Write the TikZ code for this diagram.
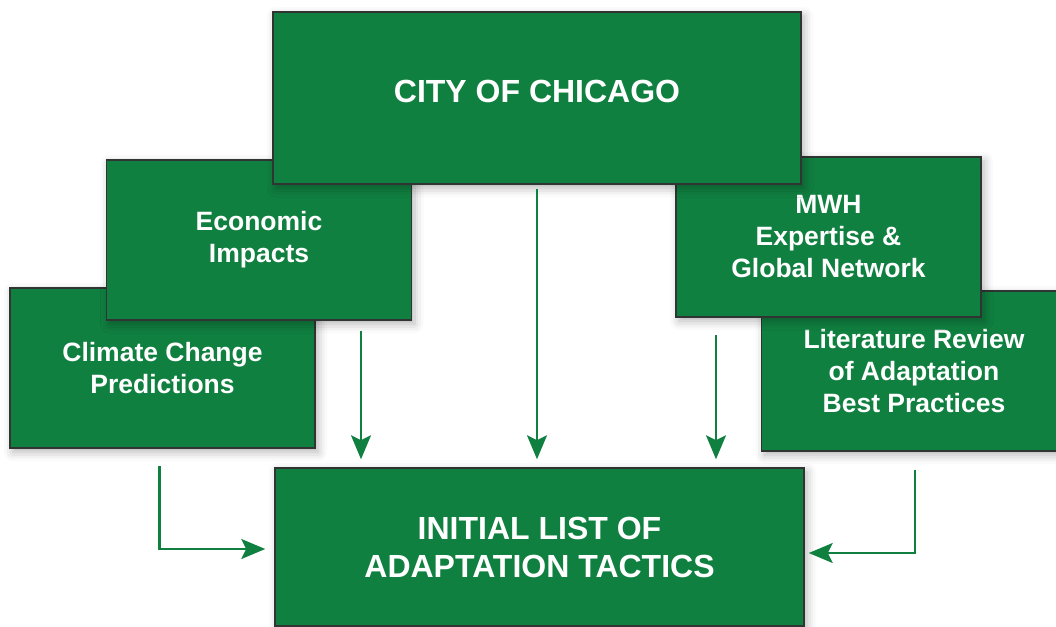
\documentclass[tikz,border=0pt]{standalone}
\usepackage{fontspec}
\setmainfont{Liberation Sans}
\usepackage{tikz}
\usetikzlibrary{arrows.meta,shadows.blur}

\definecolor{boxgreen}{RGB}{16,128,64}
\definecolor{boxline}{RGB}{48,52,50}

\begin{document}
\begin{tikzpicture}[x=1pt,y=-1pt,>={Stealth[length=24pt,width=20pt,inset=5pt]},
  part node/.style={rectangle,fill=boxgreen,draw=boxline,line width=1.5pt,text=white,align=center,
    minimum width=305pt,minimum height=160pt,inner sep=0pt,
    font=\bfseries\fontsize{26.5}{32}\selectfont,
    blur shadow={shadow xshift=3pt,shadow yshift=-4pt,shadow blur radius=9pt,shadow opacity=30}},
  main node/.style={part node,font=\bfseries\fontsize{32}{38}\selectfont},
  feed/.style={->,draw=boxgreen,line width=2.3pt}]

  \useasboundingbox (0,0) rectangle (1056,626);
  \clip (0,0) rectangle (1056,626);

  \node[part node] (climate) at (162.5,368) {Climate Change\\Predictions};
  \node[part node] (econ)    at (259,240)   {Economic\\Impacts};
  \node[part node] (lit)     at (914,371)   {Literature Review\\of Adaptation\\Best Practices};
  \node[part node] (mwh)     at (828.5,237) {MWH\\Expertise \&\\Global Network};
  \node[main node,minimum width=528pt,minimum height=172pt,text depth=14pt] (city) at (537,98) {CITY OF CHICAGO};
  \node[main node,minimum width=529pt,minimum height=158pt] (init) at (539.5,547) {INITIAL LIST OF\\ADAPTATION TACTICS};

  \draw[feed,shorten <=10pt,shorten >=8pt] ([xshift=102pt]econ.south) -- ([xshift=102pt]econ.south |- init.north);
  \draw[feed,shorten <=4pt,shorten >=8pt] (city.south) -- (city.south |- init.north);
  \draw[feed,shorten <=17pt,shorten >=8pt] ([xshift=-112.5pt]mwh.south) -- ([xshift=-112.5pt]mwh.south |- init.north);
  \draw[feed,shorten <=17pt,shorten >=9pt] ([xshift=-3pt]climate.south) |- ([yshift=-2pt]init.west);
  \draw[feed,shorten <=18pt,shorten >=4pt] ([xshift=1pt]lit.south) |- ([yshift=-6pt]init.east);
\end{tikzpicture}
\end{document}
